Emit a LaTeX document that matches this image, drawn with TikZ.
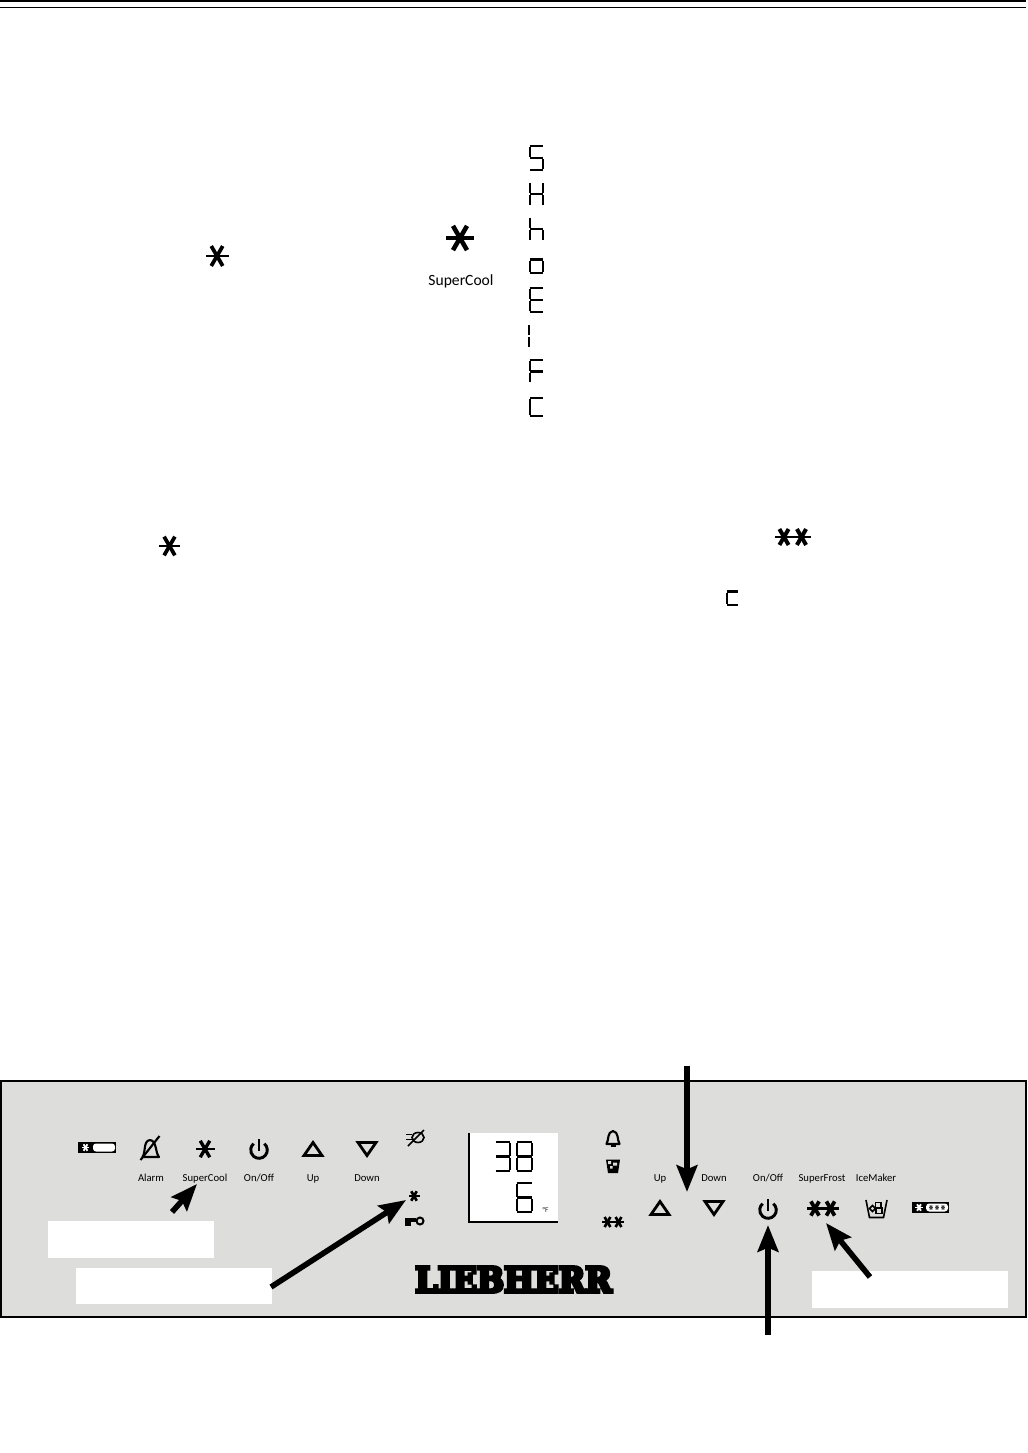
\documentclass[tikz,border=0pt]{standalone}
\usepackage{fontspec}
\setmainfont{Carlito}
\newfontfamily\logofont[FakeBold=10]{DejaVu Serif Bold}
\usetikzlibrary{arrows.meta,calc}
\definecolor{panelgray}{HTML}{DDDDDC}
\tikzset{
  x=0.75pt,y=-0.75pt,
  lbl/.style={font=\fontsize{8pt}{9pt}\selectfont,inner sep=0pt,anchor=base,text=black},
  whitebox/.style={fill=white,draw=none,inner sep=0pt,anchor=north west},
  bigarrow/.style={line width=4.3pt,-{Stealth[length=20pt,width=15.5pt,inset=3pt]}},
  smallarrow/.style={line width=4.2pt,-{Stealth[length=20pt,width=15.5pt,inset=3pt]}},
  seg/.style={line width=1.75pt,line cap=butt},
  ico/.style={line width=1.6pt,line join=round},
}
% seven segment digit: x y w h list
\newcommand{\sega}{\draw[seg] (0.6,1.1) -- (\W-0.6,1.1);}
\newcommand{\segb}{\draw[seg] (\W-1.1,2) -- (\W-1.1,\H/2-1);}
\newcommand{\segc}{\draw[seg] (\W-1.1,\H/2+1) -- (\W-1.1,\H-2);}
\newcommand{\segd}{\draw[seg] (0.6,\H-1.1) -- (\W-0.6,\H-1.1);}
\newcommand{\sege}{\draw[seg] (1.1,\H/2+1) -- (1.1,\H-2);}
\newcommand{\segf}{\draw[seg] (1.1,2) -- (1.1,\H/2-1);}
\newcommand{\segg}{\draw[seg] (1.2,\H/2) -- (\W-1.2,\H/2);}
\newcommand{\digitseg}[5]{\begin{scope}[shift={(#1,#2)}]
  \def\W{#3}\def\H{#4}\foreach \s in {#5}{\csname seg\s\endcsname}\end{scope}}
% asterisk: x y r lw colour (diagonals heavy, crossbar lighter)
\newcommand{\snow}[5]{%
  \draw[line width=0.68*#4 pt,#5] ($(#1,#2)+(0:#3)$) -- ($(#1,#2)+(180:#3)$);
  \foreach \a in {60,120}{
  \draw[line width=#4pt,#5] ($(#1,#2)+(\a:#3)$) -- ($(#1,#2)+(\a+180:#3)$);}}
\newcommand{\powericon}[2]{\begin{scope}[shift={(#1,#2)}]
  \draw[line width=2.2pt] ({8.3*cos(50)},{-8.3*sin(50)}) arc[start angle=-50,delta angle=280,radius=8.3];
  \draw[line width=2.2pt] (0,-11) -- (0,1);
\end{scope}}
\newcommand{\uptri}[2]{\draw[line width=2.1pt,line join=miter] (#1-9,#2+6.5) -- (#1,#2-6.5) -- (#1+9,#2+6.5) -- cycle;}
\newcommand{\downtri}[2]{\draw[line width=2.1pt,line join=miter] (#1-9,#2-6.5) -- (#1,#2+6.5) -- (#1+9,#2-6.5) -- cycle;}
\begin{document}
\begin{tikzpicture}
\useasboundingbox (0,0) rectangle (1028,1453);
\fill[white] (0,0) rectangle (1028,1453);
% header rules
\draw[line width=1.1pt] (0,1) -- (1026,1);
\draw[line width=1.1pt] (0,7.3) -- (1026,7.3);

% upper page symbols
\snow{217}{256}{11.5}{2.8}{black}
\snow{460}{238}{14}{3.4}{black}
\node[font=\fontsize{11.7pt}{13pt}\selectfont,inner sep=0pt,anchor=base] (topsc) at (461,285.5) {SuperCool};
\snow{169.5}{546}{10.8}{2.8}{black}
\snow{784}{537}{9.2}{3}{black}
\snow{801.5}{537}{9.2}{3}{black}
\digitseg{529}{145}{15}{26}{a,f,g,c,d}
\digitseg{529}{181}{15}{26}{f,e,g,b,c}
\digitseg{529}{216}{15}{26}{f,e,g,c}
\digitseg{529}{245}{15}{29}{g,c,d,e}
\digitseg{529}{287}{15}{26}{a,f,g,e,d}
\digitseg{528}{323}{6}{26}{f,e}
\digitseg{529}{359}{15}{25}{a,f,g,e}
\digitseg{529}{379}{15}{38}{g,e,d}
\digitseg{726}{577}{13}{29}{g,e,d}

% panel
\draw[fill=panelgray,line width=1.7pt,draw=black] (1,1081) rectangle (1026,1317);
\node[whitebox,minimum width=166*0.75pt,minimum height=37*0.75pt] (boxa) at (48,1221) {};
\node[whitebox,minimum width=196*0.75pt,minimum height=36*0.75pt] (boxb) at (76,1268) {};
\node[whitebox,minimum width=196*0.75pt,minimum height=37*0.75pt] (boxc) at (812,1271) {};

% left indicator
\fill[black] (78,1142) rectangle (116,1153);
\snow{85.5}{1147.5}{3.8}{1.4}{white}
\fill[white,rounded corners=2.2pt] (93,1143.5) rectangle (115,1151.5);

% alarm-off bell
\draw[ico] (142.5,1157) .. controls (146,1152) and (143,1141) .. (150,1140) .. controls (157,1141) and (155,1152) .. (159,1157) -- cycle;
\draw[ico] (140.5,1160) -- (159.5,1136);
\snow{205}{1149}{9.5}{2.5}{black}
\powericon{259}{1150}
\uptri{313}{1149}
\downtri{367}{1149}
\node[lbl] (lalarm) at (151,1181) {Alarm};
\node[lbl] (lsuper) at (205,1181) {SuperCool};
\node[lbl] (lonl) at (259,1181) {On/Off};
\node[lbl] (lupl) at (313,1181) {Up};
\node[lbl] (ldownl) at (367,1181) {Down};

% fan-off icon
\draw[line width=1.2pt] (418,1137.5) circle[x radius=6,y radius=5];
\draw[line width=1.1pt] (406,1134.5) -- (412,1134.5) (406,1139.5) -- (412,1139.5);
\draw[line width=1.3pt] (408,1146) -- (424,1130);
% small star and key
\snow{414}{1196}{5.5}{2}{black}
\fill (405,1218) rectangle (416,1222);
\fill (405,1218) rectangle (411,1226);
\draw[line width=1.5pt] (420,1221) circle[radius=3.5];

% display
\fill[white] (469,1133) rectangle (558,1222);
\draw[line width=.8pt] (469,1133) -- (469,1222) -- (558,1222);
\digitseg{495}{1141}{16}{31}{a,b,g,c,d}
\digitseg{516}{1141}{17}{31}{a,b,c,d,e,f,g}
\digitseg{516}{1182}{17}{31}{a,f,g,c,d,e}
\node[font=\fontsize{5.5pt}{6pt}\selectfont,inner sep=0pt,text=black!85] (unit) at (545.5,1209.5) {°F};

% bell
\draw[ico] (606.5,1144) .. controls (609,1140) and (607,1132) .. (613,1131) .. controls (619,1132) and (617,1140) .. (619.5,1144) -- cycle;
\draw[line width=1.3pt] (610.5,1146) -- (615.5,1146);
% ice mini
\fill (606,1159.5) -- (620,1159.5) -- (618,1173) -- (608,1173) -- cycle;
\fill[panelgray] (608,1161) rectangle (611,1164) (613,1162.5) rectangle (617,1165.5) (610,1166) rectangle (612.5,1168.5);
% double star
\snow{607.5}{1222}{5.8}{2}{black}
\snow{618.5}{1222}{5.8}{2}{black}
\uptri{660}{1208}
\downtri{714}{1208}
\powericon{768}{1210}
\snow{815}{1208.5}{8.2}{2.8}{black}
\snow{830.5}{1208.5}{8.2}{2.8}{black}
% bucket
\draw[line width=1.2pt] (866,1200) -- (869.5,1217.5) -- (883.5,1217.5) -- (887,1200);
\draw[line width=1.1pt] (875.5,1202.5) rectangle (881,1208) (876,1208) rectangle (882,1213.5);
\draw[line width=1.1pt] (872.5,1205.5) -- (875.5,1208.5) -- (872.5,1211.5) -- (869.5,1208.5) -- cycle;
% right indicator
\fill[black] (912,1202) rectangle (949,1213);
\snow{919}{1207.5}{3.8}{1.4}{white}
\fill[white,rounded corners=2.4pt] (926,1203.5) rectangle (948,1211.5);
\snow{931}{1207.5}{2.3}{.9}{black!75}
\snow{937}{1207.5}{2.3}{.9}{black!75}
\snow{943}{1207.5}{2.3}{.9}{black!75}
\node[lbl] (lupr) at (660,1181) {Up};
\node[lbl] (ldownr) at (714,1181) {Down};
\node[lbl] (lonr) at (768,1181) {On/Off};
\node[lbl] (lsf) at (822,1181) {SuperFrost};
\node[lbl] (lim) at (876,1181) {IceMaker};

% logo
\node[inner sep=0pt,anchor=center] (logo) at (513.5,1279.5) {\resizebox{147.5pt}{19pt}{\logofont LIEBHERR}};

% arrows
\coordinate (a1s) at (172,1212); \coordinate (a1e) at (197,1184);
\coordinate (a2s) at (271,1287); \coordinate (a2e) at (406,1200);
\coordinate (a3s) at (687,1066); \coordinate (a3e) at (687,1192);
\coordinate (a4s) at (768,1335); \coordinate (a4e) at (768,1225);
\coordinate (a5s) at (870,1277); \coordinate (a5e) at (826,1223);
\draw[smallarrow] (a1s) -- (a1e);
\draw[smallarrow] (a2s) -- (a2e);
\draw[bigarrow] (a3s) -- (a3e);
\draw[bigarrow] (a4s) -- (a4e);
\draw[smallarrow] (a5s) -- (a5e);
\end{tikzpicture}
\end{document}
